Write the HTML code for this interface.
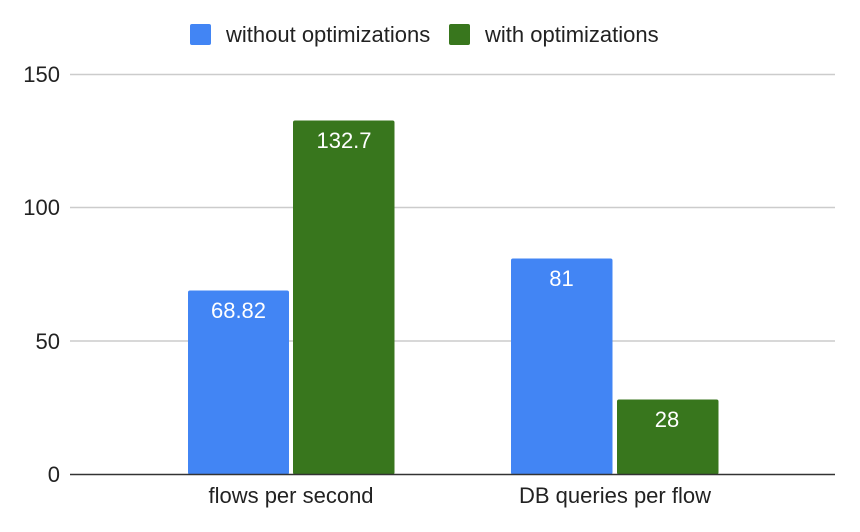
<!DOCTYPE html>
<html><head><style>body{margin:0;background:#fff}svg{display:block}</style></head><body>
<svg width="860" height="532" xmlns="http://www.w3.org/2000/svg" font-family="Liberation Sans, Arial, sans-serif">
<rect width="860" height="532" fill="#fff"/>
<rect x="190" y="24" width="21" height="21" rx="2" fill="#4285f4"/>
<text x="226" y="42" font-size="22" fill="#222">without optimizations</text>
<rect x="449" y="24" width="21" height="21" rx="2" fill="#38761d"/>
<text x="485" y="42" font-size="22" fill="#222">with optimizations</text>
<g stroke="#ccc" stroke-width="1.5">
<line x1="70" y1="74.5" x2="835" y2="74.5"/>
<line x1="70" y1="207.5" x2="835" y2="207.5"/>
<line x1="70" y1="341" x2="835" y2="341"/>
</g>
<g font-size="22" fill="#222" text-anchor="end">
<text x="60" y="82">150</text>
<text x="60" y="215">100</text>
<text x="60" y="349">50</text>
<text x="60" y="482">0</text>
</g>
<rect x="188" y="290.5" width="101" height="184" rx="2" fill="#4285f4"/>
<rect x="293" y="120.5" width="101.5" height="354" rx="2" fill="#38761d"/>
<rect x="511" y="258.5" width="101.5" height="216" rx="2" fill="#4285f4"/>
<rect x="617" y="399.5" width="101.5" height="75" rx="2" fill="#38761d"/>
<g font-size="22" fill="#fff" text-anchor="middle">
<text x="238.5" y="318">68.82</text>
<text x="344" y="148">132.7</text>
<text x="561.5" y="286">81</text>
<text x="667" y="427">28</text>
</g>
<line x1="70" y1="474.5" x2="835" y2="474.5" stroke="#333" stroke-width="1.5"/>
<g font-size="22" fill="#222" text-anchor="middle">
<text x="291" y="503">flows per second</text>
<text x="615" y="503">DB queries per flow</text>
</g>
</svg>
</body></html>
